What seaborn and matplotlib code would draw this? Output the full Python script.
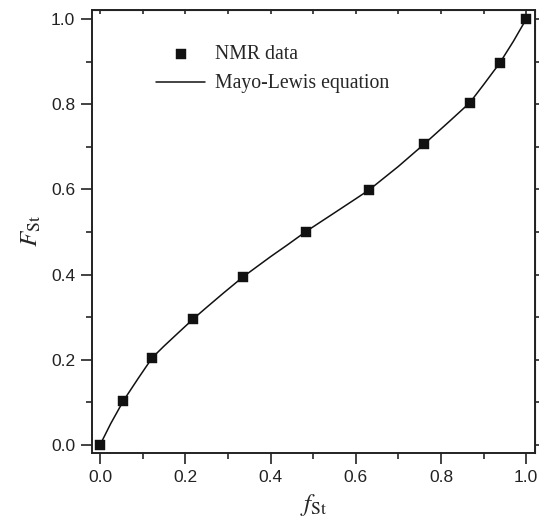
import numpy as np
import pandas as pd
import seaborn as sns
import matplotlib.pyplot as plt
from matplotlib.ticker import MultipleLocator

# NMR data points (feed fraction f_St vs copolymer fraction F_St)
f_nmr = [0.0, 0.055, 0.1226, 0.2188, 0.336, 0.483, 0.631, 0.760, 0.8675, 0.938, 1.0]
F_nmr = [0.0, 0.104, 0.205, 0.296, 0.395, 0.501, 0.5986, 0.706, 0.8035, 0.897, 1.0]

# Mayo-Lewis curve
f_ml = [0.0, 0.025, 0.055, 0.09, 0.1226, 0.15, 0.18, 0.2188, 0.25, 0.29, 0.336,
        0.40, 0.44, 0.483, 0.55, 0.60, 0.631, 0.70, 0.76, 0.82, 0.8675, 0.90,
        0.938, 0.97, 1.0]
F_ml = [0.0, 0.050, 0.104, 0.157, 0.205, 0.232, 0.260, 0.296, 0.323, 0.357, 0.395,
        0.442, 0.470, 0.501, 0.545, 0.578, 0.5986, 0.654, 0.706, 0.760, 0.8035, 0.846,
        0.897, 0.948, 1.0]

nmr = pd.DataFrame({'f': f_nmr, 'F': F_nmr})
ml = pd.DataFrame({'f': f_ml, 'F': F_ml})

sns.set_style('ticks')
plt.rcParams['font.family'] = ['Liberation Sans', 'DejaVu Sans']
plt.rcParams['mathtext.fontset'] = 'stix'

fig = plt.figure(figsize=(5.44, 5.24), dpi=100)
ax = fig.add_axes([0.169, 0.135, 0.814, 0.8465])

sns.lineplot(data=ml, x='f', y='F', color='#111111', lw=1.1, sort=False,
             label='Mayo-Lewis equation', ax=ax, zorder=2)
sns.scatterplot(data=nmr, x='f', y='F', marker='s', s=44, color='#111111',
                edgecolor='#111111', linewidth=0.3, label='NMR data', ax=ax, zorder=3)

ax.set_xlim(-0.019, 1.02)
ax.set_ylim(-0.0195, 1.022)
ax.xaxis.set_major_locator(MultipleLocator(0.2))
ax.xaxis.set_minor_locator(MultipleLocator(0.1))
ax.yaxis.set_major_locator(MultipleLocator(0.2))
ax.yaxis.set_minor_locator(MultipleLocator(0.1))
ax.tick_params(which='major', direction='out', length=8, width=1.2,
               labelsize=12.5, colors='#222222', pad=4)
ax.tick_params(which='minor', direction='out', length=4, width=1.2)

for sp in ax.spines.values():
    sp.set_linewidth(1.4)
    sp.set_color('#222222')

# mirror ticks on top (inward) and right (outward), no labels
top = ax.secondary_xaxis('top')
top.xaxis.set_major_locator(MultipleLocator(0.1))
top.tick_params(direction='in', length=3, width=1.2, labeltop=False)
right = ax.secondary_yaxis('right')
right.yaxis.set_major_locator(MultipleLocator(0.1))
right.tick_params(direction='out', length=3, width=1.2, labelright=False)

ax.set_xlabel(r'$f_{\mathrm{St}}$', fontsize=18, labelpad=5)
ax.set_ylabel(r'$F_{\mathrm{St}}$', fontsize=18, labelpad=6)

handles, labels = ax.get_legend_handles_labels()
order = [labels.index('NMR data'), labels.index('Mayo-Lewis equation')]
leg = ax.legend([handles[i] for i in order], [labels[i] for i in order],
                loc='upper left', bbox_to_anchor=(0.105, 0.96), frameon=False,
                handlelength=2.5, handletextpad=0.5, labelspacing=0.52,
                prop={'family': 'Liberation Serif', 'size': 14.2})

fig.savefig('out.png', dpi=100)
